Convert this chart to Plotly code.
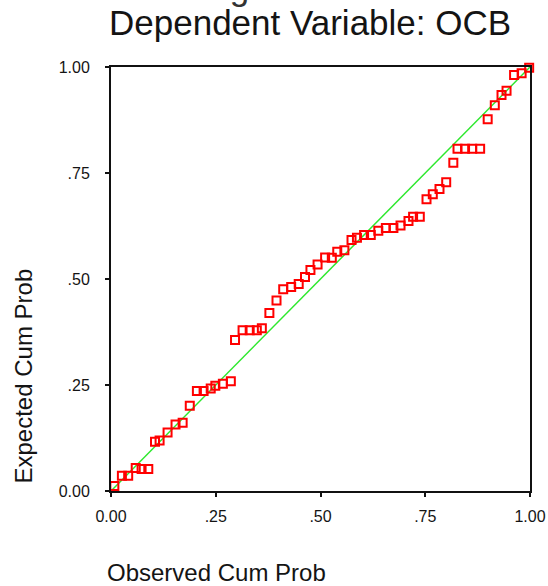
import plotly.graph_objects as go

# Observed cumulative probability (x) and expected cumulative probability (y)
observed_cum_prob = [
    0.008, 0.026, 0.041, 0.059, 0.073, 0.089, 0.105, 0.116, 0.135, 0.154,
    0.171, 0.188, 0.205, 0.221, 0.238, 0.249, 0.267, 0.286, 0.296, 0.314,
    0.331, 0.348, 0.360, 0.378, 0.395, 0.411, 0.430, 0.448, 0.463, 0.476,
    0.493, 0.511, 0.527, 0.540, 0.557, 0.574, 0.587, 0.604, 0.620, 0.638,
    0.656, 0.674, 0.691, 0.710, 0.721, 0.737, 0.753, 0.768, 0.784, 0.800,
    0.817, 0.827, 0.845, 0.862, 0.881, 0.899, 0.916, 0.932, 0.944, 0.962,
    0.980, 0.998,
]
expected_cum_prob = [
    0.012, 0.036, 0.036, 0.054, 0.052, 0.052, 0.116, 0.119, 0.138, 0.157,
    0.161, 0.201, 0.236, 0.236, 0.242, 0.248, 0.253, 0.259, 0.356, 0.379,
    0.379, 0.379, 0.384, 0.420, 0.449, 0.476, 0.481, 0.488, 0.505, 0.521,
    0.534, 0.551, 0.550, 0.564, 0.568, 0.592, 0.597, 0.604, 0.604, 0.614,
    0.620, 0.620, 0.626, 0.637, 0.647, 0.647, 0.688, 0.700, 0.712, 0.728,
    0.774, 0.807, 0.807, 0.807, 0.807, 0.877, 0.910, 0.934, 0.944, 0.981,
    0.985, 0.998,
]
reference_line = [0.0, 1.0]

tick_values = [0, 0.25, 0.5, 0.75, 1.0]
tick_labels = ["0.00", ".25", ".50", ".75", "1.00"]

FONT = "Liberation Sans, Arial, sans-serif"
TXT = "#141414"

fig = go.Figure()
fig.add_trace(go.Scatter(
    x=reference_line, y=reference_line, mode="lines",
    line=dict(color="#2ee82e", width=1.5),
    hoverinfo="skip", showlegend=False,
))
fig.add_trace(go.Scatter(
    x=observed_cum_prob, y=expected_cum_prob, mode="markers",
    marker=dict(symbol="square-open", size=8, color="#ff0000",
                line=dict(color="#ff0000", width=2)),
    cliponaxis=False, showlegend=False,
))

axis_common = dict(
    range=[0, 1], tickvals=tick_values, ticktext=tick_labels,
    showgrid=False, zeroline=False, showline=True, mirror=True,
    linecolor="#111111", linewidth=2, ticks="outside", ticklen=4,
    tickwidth=2, tickcolor="#111111",
    tickfont=dict(family=FONT, size=16, color=TXT),
    automargin=False,
)
fig.update_xaxes(**axis_common, ticklabelstandoff=6)
fig.update_yaxes(**axis_common, ticklabelstandoff=12)

W, H = 548, 586
L, R, T, B = 111, 530, 67, 491


def px_x(p):
    return (p - L) / (R - L)


def px_y(p):
    return (B - p) / (B - T)


fig.update_layout(
    width=W, height=H,
    margin=dict(l=L, r=W - R, t=T, b=H - B, autoexpand=False),
    paper_bgcolor="white", plot_bgcolor="white",
    font=dict(family=FONT, color=TXT),
    annotations=[
        dict(text="Normal P-P Plot of Regression Standardized Residual",
             xref="paper", yref="paper", x=px_x(305), y=px_y(-12.5),
             xanchor="center", yanchor="middle", showarrow=False,
             font=dict(size=35, family=FONT, color="#333333")),
        dict(text="Dependent Variable: OCB",
             xref="paper", yref="paper", x=px_x(310), y=px_y(23),
             xanchor="center", yanchor="middle", showarrow=False,
             font=dict(size=35, family=FONT, color=TXT)),
        dict(text="Observed Cum Prob",
             xref="paper", yref="paper", x=px_x(105), y=px_y(572),
             xanchor="left", yanchor="middle", showarrow=False,
             font=dict(size=24, family=FONT, color=TXT)),
        dict(text="Expected Cum Prob", textangle=-90,
             xref="paper", yref="paper", x=px_x(23), y=px_y(486),
             xanchor="center", yanchor="bottom", showarrow=False,
             font=dict(size=24, family=FONT, color=TXT)),
    ],
)

fig.write_html(
    "out.html",
    config={"displayModeBar": False},
    post_script="document.body.style.margin='0';document.body.style.overflow='hidden';",
)
